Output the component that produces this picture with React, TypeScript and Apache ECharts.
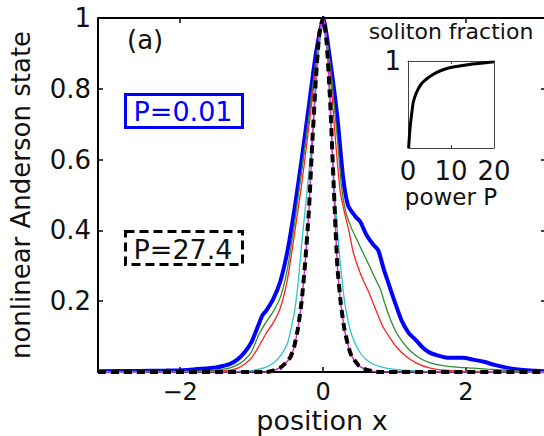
import React, { useEffect, useRef } from "react";
import * as echarts from "echarts";

// ---- data ----
const xTicks = [-2, 0, 2];
const insetXTicks = [0, 10, 20];

// nonlinear Anderson states, position x vs amplitude
const stateP001: number[][] = [[-3.15,0.002],[-2.6,0.003],[-2.2,0.004],[-1.9,0.006],[-1.7,0.009],[-1.5,0.013],[-1.4,0.017],[-1.3,0.023],[-1.2,0.035],[-1.1,0.055],[-1.0,0.085],[-0.9,0.135],[-0.85,0.16],[-0.8,0.172],[-0.7,0.205],[-0.6,0.255],[-0.5,0.34],[-0.4,0.46],[-0.3,0.6],[-0.2,0.75],[-0.1,0.9],[0,1.0],[0.1,0.88],[0.2,0.72],[0.28,0.55],[0.35,0.47],[0.45,0.44],[0.52,0.425],[0.6,0.39],[0.7,0.36],[0.77,0.345],[0.85,0.29],[0.9,0.26],[1.0,0.2],[1.1,0.145],[1.2,0.11],[1.3,0.09],[1.4,0.068],[1.5,0.054],[1.6,0.047],[1.75,0.04],[1.95,0.04],[2.1,0.035],[2.25,0.029],[2.4,0.02],[2.55,0.013],[2.7,0.008],[2.9,0.004],[3.12,0.002]];
const stateGreen: number[][] = [[-3.15,0.001],[-2.0,0.002],[-1.6,0.004],[-1.4,0.008],[-1.3,0.012],[-1.2,0.02],[-1.1,0.034],[-1.0,0.058],[-0.9,0.105],[-0.8,0.14],[-0.7,0.17],[-0.6,0.21],[-0.5,0.29],[-0.4,0.42],[-0.3,0.57],[-0.2,0.72],[-0.1,0.88],[0,1.0],[0.1,0.87],[0.2,0.66],[0.26,0.52],[0.32,0.45],[0.4,0.405],[0.47,0.375],[0.54,0.345],[0.6,0.32],[0.67,0.29],[0.74,0.26],[0.8,0.235],[0.87,0.19],[0.94,0.15],[1.03,0.11],[1.12,0.083],[1.22,0.06],[1.36,0.038],[1.5,0.026],[1.68,0.018],[1.9,0.013],[2.1,0.011],[2.3,0.008],[2.55,0.005],[2.8,0.002],[3.12,0.001]];
const stateRed: number[][] = [[-3.15,0.0],[-1.6,0.001],[-1.4,0.003],[-1.3,0.005],[-1.2,0.01],[-1.1,0.022],[-1.0,0.04],[-0.9,0.072],[-0.8,0.108],[-0.7,0.138],[-0.6,0.18],[-0.5,0.26],[-0.4,0.39],[-0.3,0.53],[-0.2,0.69],[-0.1,0.86],[0,1.0],[0.1,0.84],[0.18,0.64],[0.24,0.51],[0.3,0.45],[0.36,0.4],[0.42,0.34],[0.5,0.29],[0.56,0.26],[0.63,0.23],[0.7,0.195],[0.77,0.16],[0.84,0.127],[0.95,0.092],[1.03,0.07],[1.15,0.046],[1.3,0.026],[1.5,0.011],[1.7,0.005],[2.0,0.002],[2.5,0.001],[3.12,0.0]];
const stateCyan: number[][] = [[-3.15,0],[-1.4,0.001],[-1.2,0.002],[-1.0,0.004],[-0.9,0.008],[-0.8,0.014],[-0.7,0.025],[-0.6,0.045],[-0.5,0.08],[-0.45,0.12],[-0.4,0.17],[-0.35,0.25],[-0.3,0.36],[-0.25,0.46],[-0.2,0.56],[-0.15,0.67],[-0.1,0.8],[-0.05,0.93],[0,1.0],[0.05,0.93],[0.1,0.74],[0.15,0.55],[0.2,0.4],[0.25,0.29],[0.3,0.2],[0.35,0.145],[0.4,0.105],[0.5,0.06],[0.6,0.036],[0.7,0.022],[0.8,0.015],[0.9,0.01],[1.1,0.005],[1.4,0.002],[1.8,0.001],[3.12,0]];
const stateMagenta: number[][] = [[-3.15,0],[-0.8,0.0],[-0.7,0.004],[-0.6,0.012],[-0.5,0.03],[-0.45,0.045],[-0.4,0.075],[-0.35,0.125],[-0.3,0.2],[-0.25,0.31],[-0.2,0.45],[-0.15,0.65],[-0.1,0.83],[-0.05,0.96],[0,1.0],[0.05,0.93],[0.1,0.76],[0.15,0.52],[0.2,0.3],[0.25,0.19],[0.3,0.12],[0.35,0.075],[0.4,0.045],[0.5,0.018],[0.6,0.007],[0.7,0.002],[0.8,0],[3.12,0]];
const stateP274: number[][] = [[-3.15,0],[-0.8,0.0],[-0.7,0.004],[-0.6,0.012],[-0.5,0.03],[-0.45,0.045],[-0.4,0.075],[-0.35,0.125],[-0.3,0.2],[-0.25,0.31],[-0.2,0.45],[-0.15,0.65],[-0.1,0.83],[-0.05,0.96],[0,1.0],[0.05,0.93],[0.1,0.76],[0.15,0.52],[0.2,0.3],[0.25,0.19],[0.3,0.12],[0.35,0.075],[0.4,0.045],[0.5,0.018],[0.6,0.007],[0.7,0.002],[0.8,0],[3.12,0]];

// inset: soliton fraction vs power P
const solitonFraction: number[][] = [[0.15,0.0],[0.3,0.12],[0.5,0.24],[0.7,0.33],[1,0.45],[1.2,0.52],[1.6,0.59],[2.3,0.67],[3,0.73],[4,0.78],[5,0.82],[6.7,0.87],[8.5,0.905],[10.5,0.93],[13,0.95],[15,0.965],[17.5,0.978],[20,0.99]];

const FONT = "DejaVu Sans";
const TXT = "#111";

export default function App() {
  const ref = useRef<HTMLDivElement>(null);
  useEffect(() => {
    if (!ref.current) return;
    const chart = echarts.init(ref.current, undefined, { renderer: "svg" });
    const minus = (v: number) => String(v).replace("-", "\u2212");
    const line = (data: number[][], color: string, width: number, z: number, dashed?: boolean) => ({
      type: "line",
      data,
      xAxisIndex: 0,
      yAxisIndex: 0,
      showSymbol: false,
      smooth: 0.2,
      z,
      lineStyle: { color, width, type: dashed ? [8, 5] : "solid" },
    });
    const mainLine = { onZero: false, lineStyle: { color: "#000", width: 2 } };
    const insetLine = { onZero: false, lineStyle: { color: "#444", width: 1 } };
    chart.setOption({
      animation: false,
      backgroundColor: "#fff",
      grid: [
        { left: 98, top: 18, width: 448, height: 354, containLabel: false, outerBoundsMode: "none" },
        { left: 408, top: 61, width: 86, height: 87, containLabel: false, outerBoundsMode: "none" },
      ],
      xAxis: [
        {
          type: "value", gridIndex: 0, min: -3.15, max: 3.12, position: "bottom",
          axisLine: mainLine,
          axisTick: { inside: true, length: 5, customValues: xTicks, lineStyle: { color: "#000", width: 1.5 } },
          axisLabel: { customValues: xTicks, formatter: minus, fontSize: 24, lineHeight: 20, fontFamily: FONT, color: TXT, margin: 10 },
          splitLine: { show: false },
          name: "position x", nameLocation: "middle", nameGap: 36, nameMoveOverlap: false,
          nameTextStyle: { fontSize: 27, fontFamily: FONT, color: TXT, lineHeight: 24 },
        },
        {
          type: "value", gridIndex: 0, min: -3.15, max: 3.12, position: "top",
          axisLine: mainLine,
          axisTick: { inside: true, length: 5, customValues: xTicks, lineStyle: { color: "#000", width: 1.5 } },
          axisLabel: { show: false },
          splitLine: { show: false },
        },
        {
          type: "value", gridIndex: 1, min: 0, max: 20, interval: 10, position: "bottom",
          axisLine: insetLine,
          axisTick: { inside: true, length: 3, lineStyle: { color: "#444" } },
          axisLabel: { customValues: insetXTicks, fontSize: 26, lineHeight: 22, fontFamily: FONT, color: TXT, margin: 12 },
          splitLine: { show: false },
          name: "power P", nameLocation: "middle", nameGap: 39, nameMoveOverlap: false,
          nameTextStyle: { fontSize: 23, lineHeight: 20, fontFamily: FONT, color: TXT },
        },
        {
          type: "value", gridIndex: 1, min: 0, max: 20, interval: 10, position: "top",
          axisLine: insetLine,
          axisTick: { inside: true, length: 3, lineStyle: { color: "#444" } },
          axisLabel: { show: false },
          splitLine: { show: false },
        },
      ],
      yAxis: [
        {
          type: "value", gridIndex: 0, min: 0, max: 1, interval: 0.2, position: "left",
          axisLine: mainLine,
          axisTick: { inside: true, length: 5, lineStyle: { color: "#000", width: 1.5 } },
          axisLabel: { formatter: (v: number) => (v === 0 ? "" : String(v)), fontSize: 26, fontFamily: FONT, color: TXT, margin: 7 },
          splitLine: { show: false },
          name: "nonlinear Anderson state", nameLocation: "middle", nameGap: 64, nameMoveOverlap: false,
          nameTextStyle: { fontSize: 26, fontFamily: FONT, color: TXT },
        },
        {
          type: "value", gridIndex: 0, min: 0, max: 1, interval: 0.2, position: "right",
          axisLine: mainLine,
          axisTick: { inside: true, length: 5, lineStyle: { color: "#000", width: 1.5 } },
          axisLabel: { show: false },
          splitLine: { show: false },
        },
        {
          type: "value", gridIndex: 1, min: 0, max: 1, interval: 1, position: "left",
          axisLine: insetLine,
          axisTick: { show: false },
          axisLabel: { formatter: (v: number) => (v === 1 ? "1" : ""), fontSize: 26, fontFamily: FONT, color: TXT, margin: 7 },
          splitLine: { show: false },
        },
        {
          type: "value", gridIndex: 1, min: 0, max: 1, interval: 1, position: "right",
          axisLine: insetLine,
          axisTick: { show: false },
          axisLabel: { show: false },
          splitLine: { show: false },
        },
      ],
      series: [
        line(stateP001, "#0000ff", 4, 2),
        line(stateGreen, "#2e8b2e", 1.3, 3),
        line(stateRed, "#ff2020", 1.3, 4),
        line(stateCyan, "#2ec4c4", 1.3, 5),
        line(stateMagenta, "#cc33cc", 1.5, 6),
        line(stateP274, "#000000", 4, 7, true),
        {
          type: "line", data: solitonFraction, xAxisIndex: 2, yAxisIndex: 2,
          showSymbol: false, smooth: 0.3, z: 8,
          lineStyle: { color: "#000", width: 3 },
        },
      ],
      graphic: [
        { type: "text", left: 127, top: 27, style: { text: "(a)", font: `26px "${FONT}"`, fill: TXT } },
        { type: "text", x: 451, y: 31, style: { text: "soliton fraction", font: `22px "${FONT}"`, fill: TXT, textAlign: "center", textVerticalAlign: "middle" } },
        { type: "rect", shape: { x: 125.5, y: 94.5, width: 117, height: 33 }, style: { fill: "#fff", stroke: "#0000ff", lineWidth: 3 } },
        { type: "text", x: 183, y: 111, style: { text: "P=0.01", font: `27px "${FONT}"`, fill: "#0000ff", textAlign: "center", textVerticalAlign: "middle" } },
        { type: "rect", shape: { x: 125.5, y: 231.5, width: 117, height: 33 }, style: { fill: "#fff", stroke: "#000", lineWidth: 3, lineDash: [9, 5] } },
        { type: "text", x: 183, y: 249, style: { text: "P=27.4", font: `27px "${FONT}"`, fill: TXT, textAlign: "center", textVerticalAlign: "middle" } },
      ],
    });
    return () => chart.dispose();
  }, []);
  return (
    <div
      ref={ref}
      style={{ position: "fixed", left: 0, top: 0, width: 544, height: 436, background: "#fff" }}
    />
  );
}
